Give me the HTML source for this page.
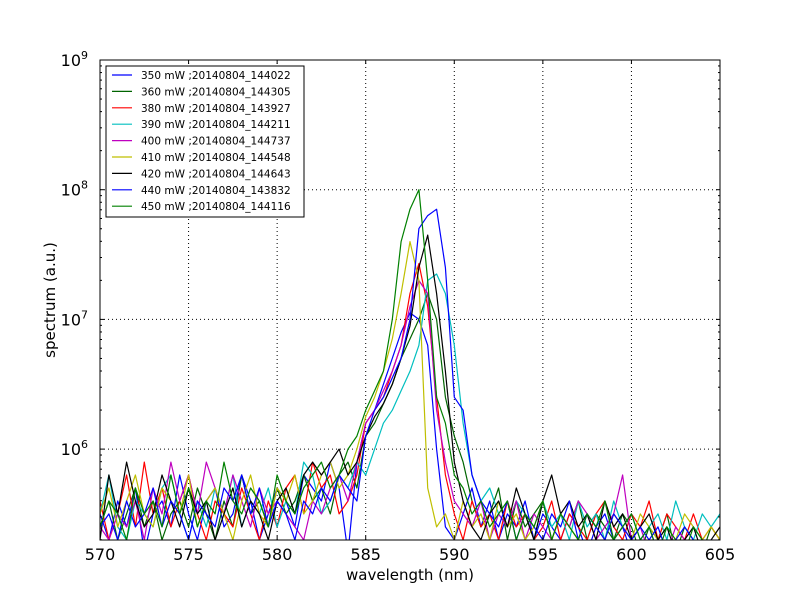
<!DOCTYPE html>
<html><head><meta charset="utf-8"><style>
body{margin:0;background:#fff;}
svg{display:block;font-family:"DejaVu Sans","Liberation Sans",sans-serif;}
</style></head><body>
<svg id="c" width="800" height="600">
<rect width="800" height="600" fill="#fff"/>
<defs><clipPath id="clip"><rect x="100" y="60" width="620" height="480"/></clipPath></defs>
<g id="grid"></g>
<g id="series" clip-path="url(#clip)"></g>
<rect x="100" y="60" width="620" height="480" fill="none" stroke="#000"/>
<g id="ticks"></g>
<text x="410" y="580" font-size="15" text-anchor="middle">wavelength (nm)</text>
<text transform="translate(55,300) rotate(-90)" font-size="15" text-anchor="middle">spectrum (a.u.)</text>
<g id="legend"></g>
</svg>
<script>
const xStart=570, xStep=0.5;
const labels=["350 mW ;20140804_144022","360 mW ;20140804_144305","380 mW ;20140804_143927","390 mW ;20140804_144211","400 mW ;20140804_144737","410 mW ;20140804_144548","420 mW ;20140804_144643","440 mW ;20140804_143832","450 mW ;20140804_144116"];
const colors=["#0000ff","#006400","#ff0000","#00bfbf","#bf00bf","#bfbf00","#000000","#0000ff","#008000"];
const xTicks=[570,575,580,585,590,595,600,605];
const yTicks=[6,7,8,9];
// log10 of spectrum, sampled every 0.5 nm from 570 nm
const s350=[5.5,5.3,5.6,5.4,5.7,5.2,5.5,5.6,5.4,5.8,5.5,5.3,5.6,5.7,5.4,5.5,5.8,5.6,5.3,5.5,5.7,5.6,5.4,5.8,5.7,5.6,5.9,5.7,5.2,5.9,6.2,6.3,6.5,6.7,6.9,7.05,7.0,6.8,6.0,5.4,5.3,5.5,5.7,5.4,5.6,5.3,5.5,5.4,5.6,5.3,5.5,5.4,5.3,5.5,5.4,5.2,5.4,5.5,5.3,5.4,5.2,5.3,5.4,5.2,5.3,5.1,5.3,5.2,5.3,5.2,5.3];
const s360=[5.4,5.6,5.3,5.5,5.7,5.4,5.6,5.3,5.5,5.6,5.4,5.7,5.5,5.3,5.6,5.4,5.8,5.5,5.6,5.4,5.7,5.5,5.6,5.8,5.6,5.7,5.5,5.8,5.9,5.7,6.1,6.2,6.35,6.5,6.7,6.85,7.0,7.2,7.0,6.4,6.1,5.9,5.6,5.4,5.5,5.7,5.3,5.6,5.4,5.5,5.6,5.3,5.5,5.4,5.6,5.3,5.5,5.4,5.3,5.5,5.4,5.2,5.4,5.3,5.5,5.2,5.4,5.3,5.2,5.4,5.3];
const s380=[5.6,5.3,5.5,5.8,5.4,5.9,5.5,5.7,5.4,5.6,5.8,5.5,5.3,5.6,5.5,5.4,5.7,5.5,5.3,5.6,5.4,5.7,5.8,5.5,5.9,5.7,5.8,5.5,5.6,5.8,6.2,6.3,6.4,6.6,6.8,7.2,7.43,7.1,6.4,5.8,5.5,5.3,5.6,5.4,5.5,5.3,5.6,5.4,5.5,5.3,5.4,5.6,5.3,5.5,5.4,5.3,5.5,5.6,5.4,5.3,5.5,5.4,5.6,5.3,5.5,5.4,5.3,5.5,5.3,5.4,5.3];
const s390=[5.5,5.8,5.4,5.3,5.6,5.5,5.4,5.7,5.8,5.5,5.3,5.6,5.4,5.7,5.5,5.8,5.4,5.6,5.5,5.7,5.4,5.6,5.5,5.9,5.8,5.5,5.6,5.8,5.7,5.9,5.8,6.0,6.2,6.3,6.45,6.6,6.8,7.3,7.35,7.2,6.8,6.2,5.8,5.6,5.7,5.5,5.4,5.6,5.5,5.3,5.6,5.4,5.5,5.3,5.6,5.4,5.5,5.3,5.6,5.4,5.5,5.3,5.4,5.5,5.3,5.6,5.4,5.3,5.5,5.4,5.5];
const s400=[5.4,5.3,5.5,5.4,5.6,5.3,5.7,5.5,5.9,5.6,5.8,5.5,5.9,5.7,5.5,5.8,5.6,5.4,5.7,5.5,5.6,5.5,5.4,5.3,5.6,5.5,5.7,5.8,5.6,5.9,6.2,6.3,6.45,6.6,6.8,7.1,7.3,7.2,6.3,5.9,5.6,5.5,5.4,5.6,5.3,5.5,5.4,5.6,5.3,5.5,5.4,5.3,5.5,5.4,5.6,5.5,5.3,5.4,5.5,5.8,5.3,5.4,5.2,5.3,5.2,5.4,5.3,5.2,5.3,5.2,5.3];
const s410=[5.5,5.7,5.4,5.6,5.8,5.5,5.4,5.7,5.6,5.5,5.8,5.4,5.6,5.7,5.5,5.3,5.6,5.8,5.5,5.4,5.7,5.6,5.8,5.5,5.6,5.8,5.9,5.7,5.8,6.0,6.25,6.4,6.6,6.85,7.2,7.6,7.3,5.7,5.4,5.5,5.3,5.6,5.4,5.5,5.3,5.6,5.4,5.5,5.3,5.4,5.6,5.3,5.5,5.4,5.3,5.5,5.4,5.3,5.5,5.4,5.3,5.5,5.4,5.3,5.4,5.3,5.5,5.4,5.3,5.4,5.3];
const s420=[5.3,5.8,5.5,5.9,5.6,5.4,5.5,5.8,5.6,5.4,5.7,5.5,5.6,5.3,5.5,5.7,5.4,5.6,5.5,5.3,5.6,5.7,5.5,5.8,5.9,5.8,5.9,6.0,5.8,5.9,6.1,6.25,6.35,6.5,6.7,6.95,7.4,7.65,7.2,6.6,5.9,5.6,5.4,5.3,5.5,5.6,5.4,5.7,5.5,5.3,5.6,5.8,5.5,5.6,5.4,5.5,5.3,5.6,5.4,5.5,5.3,5.4,5.5,5.3,5.4,5.2,5.3,5.4,5.2,5.3,5.4];
const s440=[5.4,5.5,5.3,5.6,5.4,5.5,5.7,5.4,5.6,5.5,5.3,5.6,5.5,5.4,5.7,5.6,5.8,5.5,5.7,5.4,5.6,5.5,5.3,5.6,5.5,5.7,5.6,5.8,5.7,5.6,6.1,6.3,6.4,6.55,6.7,7.0,7.7,7.8,7.85,7.4,6.4,6.3,5.8,5.6,5.5,5.4,5.6,5.3,5.5,5.4,5.3,5.5,5.4,5.6,5.3,5.5,5.4,5.3,5.5,5.4,5.3,5.4,5.3,5.4,5.2,5.3,5.4,5.3,5.2,5.3,5.2];
const s450=[5.4,5.6,5.5,5.3,5.7,5.5,5.6,5.4,5.8,5.5,5.7,5.4,5.6,5.5,5.9,5.6,5.5,5.7,5.6,5.4,5.8,5.6,5.5,5.7,5.8,5.9,5.7,5.8,6.0,6.1,6.3,6.45,6.6,7.0,7.6,7.85,8.0,7.3,6.4,6.2,5.8,5.7,5.5,5.6,5.4,5.5,5.6,5.3,5.5,5.4,5.6,5.3,5.5,5.4,5.3,5.5,5.4,5.6,5.3,5.4,5.5,5.3,5.4,5.2,5.4,5.3,5.2,5.4,5.3,5.2,5.3];
const seriesList=[s350,s360,s380,s390,s400,s410,s420,s440,s450];

const NS="http://www.w3.org/2000/svg";
const X0=100,X1=720,Y0=540,Y1=60,LMIN=9-480/129.7,LMAX=9;
const xs=v=>X0+(v-570)/(605-570)*(X1-X0);
const ys=l=>Y0-(l-LMIN)/(LMAX-LMIN)*(Y0-Y1);
function mk(tag,attrs,parent){const e=document.createElementNS(NS,tag);for(const k in attrs)e.setAttribute(k,attrs[k]);parent.appendChild(e);return e;}
const grid=document.getElementById('grid'),ticks=document.getElementById('ticks'),ser=document.getElementById('series'),leg=document.getElementById('legend');
xTicks.forEach(t=>{const x=xs(t);
 if(t>570&&t<605){const g=mk('line',{x1:x,x2:x,y1:Y0,y2:Y1,stroke:'#000','stroke-dasharray':'1,3','stroke-width':1},grid);}
 mk('line',{x1:x,x2:x,y1:Y0,y2:Y0-4,stroke:'#000'},ticks);mk('line',{x1:x,x2:x,y1:Y1,y2:Y1+4,stroke:'#000'},ticks);
 const tx=mk('text',{x:x,y:Y0+20,'font-size':16,'text-anchor':'middle'},ticks);tx.textContent=t;
 });
yTicks.forEach(t=>{const y=ys(t);
 if(t<9){const g=mk('line',{x1:X0,x2:X1,y1:y,y2:y,stroke:'#000','stroke-dasharray':'1,3'},grid);}
 mk('line',{x1:X0,x2:X0+4,y1:y,y2:y,stroke:'#000'},ticks);mk('line',{x1:X1,x2:X1-4,y1:y,y2:y,stroke:'#000'},ticks);
 const tx=mk('text',{x:X0-12,y:y+6,'font-size':16,'text-anchor':'end'},ticks);tx.textContent='10';
 
 const sp=mk('tspan',{dy:-7,'font-size':11},tx);sp.textContent=t;});
for(let d=5;d<9;d++)for(let m=2;m<10;m++){const l=d+Math.log10(m);if(l<LMIN)continue;const y=ys(l);
 mk('line',{x1:X0,x2:X0+2,y1:y,y2:y,stroke:'#000'},ticks);mk('line',{x1:X1,x2:X1-2,y1:y,y2:y,stroke:'#000'},ticks);}
seriesList.forEach((s,i)=>{const pts=s.map((v,j)=>xs(xStart+j*xStep).toFixed(1)+','+ys(v).toFixed(1)).join(' ');
 const p=mk('polyline',{points:pts,fill:'none',stroke:colors[i],'stroke-width':1.2,'stroke-linejoin':'round'},ser);
 
 });
const box=mk('rect',{x:106,y:66,width:198,height:151,fill:'#fff',stroke:'#000'},leg);


labels.forEach((lb,i)=>{const y=75+i*16.4;
 const g=mk('g',{},leg);
 
 
 mk('line',{x1:112,x2:132,y1:y,y2:y,stroke:colors[i],'stroke-width':1.2},g);
 const t=mk('text',{x:141,y:y+4,'font-size':10.5},g);t.textContent=lb;});
</script>
</body></html>
